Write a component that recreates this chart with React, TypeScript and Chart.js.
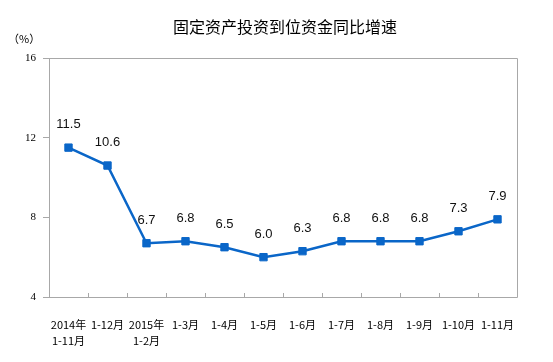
import React, { useEffect, useRef } from "react";
import { Chart, registerables } from "chart.js";

Chart.register(...registerables);

const TITLE = "固定资产投资到位资金同比增速";
const UNIT = "（%）";
const categories: (string | string[])[] = [
  ["2014年", "1-11月"],
  "1-12月",
  ["2015年", "1-2月"],
  "1-3月",
  "1-4月",
  "1-5月",
  "1-6月",
  "1-7月",
  "1-8月",
  "1-9月",
  "1-10月",
  "1-11月",
];
const growth = [11.5, 10.6, 6.7, 6.8, 6.5, 6.0, 6.3, 6.8, 6.8, 6.8, 7.3, 7.9];
const yTicks = [4, 8, 12, 16];

const LINE = "#0a66c8";
const FRAME = "#a8a8a8";

const decor = {
  id: "decor",
  afterDraw(chart: any) {
    const { ctx, chartArea } = chart;
    const xs = chart.scales.x;
    ctx.save();
    // frame
    ctx.strokeStyle = FRAME;
    ctx.lineWidth = 1;
    ctx.beginPath();
    ctx.moveTo(Math.round(chartArea.left) + 0.5, Math.round(chartArea.top) + 0.5);
    ctx.lineTo(Math.round(chartArea.right) + 0.5, Math.round(chartArea.top) + 0.5);
    ctx.lineTo(Math.round(chartArea.right) + 0.5, Math.round(chartArea.bottom) + 0.5);
    ctx.lineTo(Math.round(chartArea.left) + 0.5, Math.round(chartArea.bottom) + 0.5);
    ctx.stroke();
    // inner x tick marks at category boundaries
    ctx.beginPath();
    for (let i = 1; i < categories.length; i++) {
      const x = Math.round((xs.getPixelForTick(i - 1) + xs.getPixelForTick(i)) / 2) + 0.5;
      ctx.moveTo(x, chartArea.bottom);
      ctx.lineTo(x, chartArea.bottom - 4);
    }
    ctx.stroke();
    // title
    ctx.fillStyle = "#000";
    ctx.textAlign = "center";
    ctx.textBaseline = "middle";
    ctx.font = '16px "Noto Sans CJK SC"';
    ctx.fillText(TITLE, 285, 27);
    // unit
    ctx.font = '11px "Noto Sans CJK SC"';
    ctx.textAlign = "left";
    ctx.fillText(UNIT, 8, 39);
    // data labels
    const meta = chart.getDatasetMeta(0);
    ctx.font = '13px "Liberation Sans", Arial, sans-serif';
    ctx.textAlign = "center";
    ctx.fillStyle = "#111";
    meta.data.forEach((pt: any, i: number) => {
      ctx.fillText(growth[i].toFixed(1), pt.x, pt.y - 23);
    });
    ctx.restore();
  },
};

export default function App() {
  const ref = useRef<HTMLCanvasElement>(null);
  useEffect(() => {
    document.body.style.margin = "0";
    const chart = new Chart(ref.current!, {
      type: "line",
      data: {
        labels: categories,
        datasets: [
          {
            data: growth,
            borderColor: LINE,
            backgroundColor: LINE,
            borderWidth: 2.5,
            pointStyle: "rect",
            pointRadius: 5.2,
            pointBorderWidth: 1,
            pointBackgroundColor: LINE,
            pointBorderColor: LINE,
            tension: 0,
          },
        ],
      },
      options: {
        animation: false,
        responsive: false,
        layout: { padding: { top: 58, right: 36, left: 0, bottom: 0 } },
        plugins: { legend: { display: false }, title: { display: false }, tooltip: { enabled: false } },
        scales: {
          x: {
            offset: true,
            grid: { display: false },
            border: { display: false },
            ticks: {
              autoSkip: false,
              maxRotation: 0,
              minRotation: 0,
              padding: 12,
              color: "#000",
              font: { family: '"Noto Sans CJK SC"', size: 11, lineHeight: 1.45 },
            },
            afterFit: (s: any) => {
              s.height = 65;
            },
          },
          y: {
            min: 4,
            max: 16,
            afterBuildTicks: (s: any) => {
              s.ticks = yTicks.map((v) => ({ value: v }));
            },
            grid: { display: true, drawOnChartArea: false, drawTicks: true, tickLength: 6, color: FRAME },
            border: { display: true, color: FRAME },
            ticks: {
              padding: 7,
              color: "#000",
              font: { family: '"Liberation Serif", serif', size: 11 },
            },
            afterFit: (s: any) => {
              s.width = 49;
            },
          },
        },
      },
      plugins: [decor],
    });
    return () => chart.destroy();
  }, []);
  return <canvas ref={ref} width={553} height={362} style={{ display: "block" }} />;
}
